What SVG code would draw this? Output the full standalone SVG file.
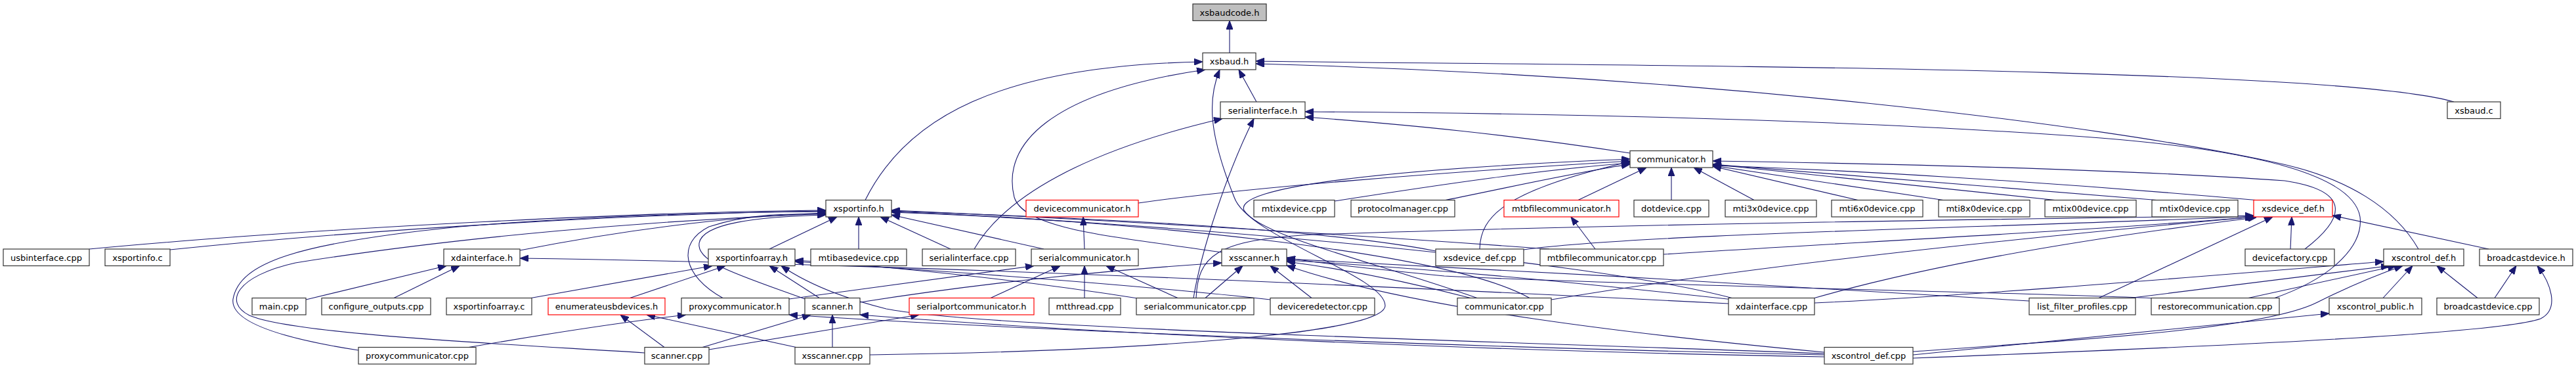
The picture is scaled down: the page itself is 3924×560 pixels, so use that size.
<svg xmlns="http://www.w3.org/2000/svg" width="3924" height="560" viewBox="0 0 3924 560">
<style>
.n rect{fill:#fff;stroke:#333;stroke-width:1.2}
.n.r rect{stroke:#f00}
.n.g rect{fill:#bfbfbf}
.n text{font-family:"DejaVu Sans","Liberation Sans",sans-serif;font-size:13px;text-anchor:middle;fill:#000}
#edges path{fill:none;stroke:#191970;stroke-width:1.1;marker-end:url(#ah)}
</style>
<defs>
<marker id="ah" markerUnits="userSpaceOnUse" markerWidth="13" markerHeight="10" viewBox="0 0 13 10" refX="13" refY="5" orient="auto">
<path d="M0,0 L13,5 L0,10 z" fill="#191970" stroke="#191970"/>
</marker>
</defs>
<rect width="3924" height="560" fill="#fff"/>
<g id="edges">
<path d="M1873,80.5 L1873,31.5"/>
<path d="M1914,155 L1887,106"/>
<path d="M1318,304.5 C1380,180 1520,100 1832,94"/>
<path d="M3738,155 C3550,100 2400,100 1913,93"/>
<path d="M3684,379 C3650,320 3580,270 3460,246 C3200,190 2600,115 1913,97"/>
<path d="M1325,540 C1700,535 2110,510 2110,465 C2110,420 1900,360 1880,300 C1840,200 1840,150 1858,106"/>
<path d="M1861,384 C1700,360 1560,350 1545,300 C1525,220 1600,140 1836,106"/>
<path d="M2483,233 C2300,205 2150,190 1988,178"/>
<path d="M1484,379 C1530,300 1650,230 1862,180.5"/>
<path d="M1818,453.5 C1830,380 1870,260 1910,180.5"/>
<path d="M3465,453.5 C3560,420 3600,370 3595,330 C3585,270 3450,230 3200,210 C2800,180 2300,172 1988,170"/>
<path d="M3511,379 C3575,330 3580,290 3480,275 C3200,255 2800,248 2609,245"/>
<path d="M3436,304.5 C3100,275 2800,258 2609,252"/>
<path d="M3285,304.5 L2609,250"/>
<path d="M3130,304.5 L2609,250"/>
<path d="M2960,304.5 L2609,252"/>
<path d="M2830,304.5 L2609,253"/>
<path d="M2672,304.5 L2580,255"/>
<path d="M2546,304.5 L2546,255"/>
<path d="M2404,304.5 L2508,255"/>
<path d="M1734,309 C1900,285 2200,262 2483,245"/>
<path d="M2033,306 C2200,280 2350,258 2483,248"/>
<path d="M2202,304.5 C2300,285 2400,262 2483,250"/>
<path d="M2250,453.5 C2100,400 1920,360 1895,320 C1880,285 2100,258 2483,242"/>
<path d="M2254,379 C2255,330 2290,290 2483,246"/>
<path d="M136,379 C500,345 1000,322 1258,320"/>
<path d="M259,380 C600,345 1000,325 1258,321"/>
<path d="M546,533 C430,515 350,490 355,455 C365,400 450,370 700,345 C900,328 1100,323 1258,322"/>
<path d="M982,537 C800,525 450,510 380,480 C340,460 360,420 450,400 C700,360 1000,335 1258,325"/>
<path d="M792,381 C950,350 1100,330 1258,324"/>
<path d="M1172,379 L1275,330"/>
<path d="M1308,379 L1308,330"/>
<path d="M1448,379 L1341,330"/>
<path d="M1590,379 L1358,327"/>
<path d="M1101,453.5 C1040,420 1030,370 1080,345 C1140,325 1200,325 1258,326"/>
<path d="M1226,455 C1130,420 1060,400 1065,370 C1070,340 1150,330 1258,327"/>
<path d="M2187,382 C2000,345 1600,330 1358,321"/>
<path d="M2360,379 C2100,360 1700,335 1358,320"/>
<path d="M2330,453.5 C2200,380 1700,335 1358,322"/>
<path d="M2640,454 C2400,390 1700,335 1358,323"/>
<path d="M806,454 L1085,404.5"/>
<path d="M958,454 L1105,404.5"/>
<path d="M1249,454 L1172,404.5"/>
<path d="M2779,538 C2300,520 1500,500 1350,470 C1270,450 1220,425 1190,404.5"/>
<path d="M1935,456 C1700,430 1400,410 1211,398"/>
<path d="M1733,454 C1550,425 1350,405 1211,396"/>
<path d="M466,456 L680,404.5"/>
<path d="M600,453.5 L700,404.5"/>
<path d="M2633,462 C2000,430 1300,400 792,393"/>
<path d="M1012,528.5 L945,479"/>
<path d="M1215,529 L985,479"/>
<path d="M714,528.5 C850,505 950,490 1045,479"/>
<path d="M2779,540 C2300,530 1600,505 1202,479"/>
<path d="M1202,455 L1575,404.5"/>
<path d="M1070,528.5 L1235,479"/>
<path d="M1268,528.5 L1268,479"/>
<path d="M2779,543 C2300,535 1700,510 1310,479"/>
<path d="M1310,460 C1500,430 1700,410 1861,400"/>
<path d="M1080,532 L1400,479"/>
<path d="M1509,453.5 L1615,404.5"/>
<path d="M1652,453.5 L1652,404.5"/>
<path d="M1794,453.5 L1685,404.5"/>
<path d="M1652,379 L1650,330"/>
<path d="M1836,453.5 L1893,404.5"/>
<path d="M1998,453.5 L1935,404.5"/>
<path d="M2240,453.5 C2150,430 2050,410 1960,398"/>
<path d="M2640,456 C2400,430 2200,410 1960,396"/>
<path d="M3091,458 C2800,440 2300,410 1960,394"/>
<path d="M3285,454 C3100,445 2500,435 2200,420 C2100,410 2000,400 1960,392"/>
<path d="M2779,536 C2500,510 2150,470 1960,404"/>
<path d="M1822,453.5 C1825,390 1850,365 2000,357 C2500,340 3100,333 3433,328"/>
<path d="M2321,380 C2500,355 3100,345 3433,329"/>
<path d="M2534,387 C2800,370 3200,350 3433,330"/>
<path d="M2363,456 C2700,400 3100,360 3435,330"/>
<path d="M2762,454 C2950,400 3200,360 3437,331"/>
<path d="M3197,453.5 L3462,330"/>
<path d="M3489,379 L3491,330"/>
<path d="M3791,379 L3553,328"/>
<path d="M2764,461 C3000,450 3300,425 3631,398"/>
<path d="M3245,453.5 L3640,404.5"/>
<path d="M3425,453.5 L3650,404.5"/>
<path d="M2914,535 C3200,515 3450,500 3530,460 C3580,435 3630,415 3660,404.5"/>
<path d="M3630,453.5 L3675,404.5"/>
<path d="M3774,453.5 L3712,404.5"/>
<path d="M3800,453.5 L3833,404.5"/>
<path d="M2914,545 C3300,530 3800,510 3870,485 C3900,470 3885,430 3865,404.5"/>
<path d="M2914,540 C3200,510 3400,490 3548,477"/>
<path d="M2430,379 L2393,330"/>
</g>
<g id="n_xsbaudcode_h" class="n g"><rect x="1817" y="6" width="112" height="25.5"/><text x="1873" y="23.5">xsbaudcode.h</text></g>
<g id="n_xsbaud_h" class="n"><rect x="1832" y="80.5" width="81" height="25.5"/><text x="1872.5" y="98">xsbaud.h</text></g>
<g id="n_serialinterface_h" class="n"><rect x="1859" y="155" width="129" height="25.5"/><text x="1923.5" y="172.5">serialinterface.h</text></g>
<g id="n_xsbaud_c" class="n"><rect x="3728" y="155" width="81" height="25.5"/><text x="3768.5" y="172.5">xsbaud.c</text></g>
<g id="n_communicator_h" class="n"><rect x="2483" y="229.5" width="126" height="25.5"/><text x="2546" y="247">communicator.h</text></g>
<g id="n_xsportinfo_h" class="n"><rect x="1258" y="304.5" width="100" height="25.5"/><text x="1308" y="322">xsportinfo.h</text></g>
<g id="n_devicecommunicator_h" class="n r"><rect x="1563" y="304.5" width="171" height="25.5"/><text x="1648.5" y="322">devicecommunicator.h</text></g>
<g id="n_mtixdevice_cpp" class="n"><rect x="1910" y="304.5" width="123" height="25.5"/><text x="1971.5" y="322">mtixdevice.cpp</text></g>
<g id="n_protocolmanager_cpp" class="n"><rect x="2058" y="304.5" width="158" height="25.5"/><text x="2137" y="322">protocolmanager.cpp</text></g>
<g id="n_mtbfilecommunicator_h" class="n r"><rect x="2291" y="304.5" width="175" height="25.5"/><text x="2378.5" y="322">mtbfilecommunicator.h</text></g>
<g id="n_dotdevice_cpp" class="n"><rect x="2489" y="304.5" width="114" height="25.5"/><text x="2546" y="322">dotdevice.cpp</text></g>
<g id="n_mti3x0device_cpp" class="n"><rect x="2628" y="304.5" width="139" height="25.5"/><text x="2697.5" y="322">mti3x0device.cpp</text></g>
<g id="n_mti6x0device_cpp" class="n"><rect x="2790" y="304.5" width="139" height="25.5"/><text x="2859.5" y="322">mti6x0device.cpp</text></g>
<g id="n_mti8x0device_cpp" class="n"><rect x="2953" y="304.5" width="139" height="25.5"/><text x="3022.5" y="322">mti8x0device.cpp</text></g>
<g id="n_mtix00device_cpp" class="n"><rect x="3115" y="304.5" width="139" height="25.5"/><text x="3184.5" y="322">mtix00device.cpp</text></g>
<g id="n_mtix0device_cpp" class="n"><rect x="3278" y="304.5" width="131" height="25.5"/><text x="3343.5" y="322">mtix0device.cpp</text></g>
<g id="n_xsdevice_def_h" class="n r"><rect x="3433" y="304.5" width="120" height="25.5"/><text x="3493" y="322">xsdevice_def.h</text></g>
<g id="n_usbinterface_cpp" class="n"><rect x="5" y="379" width="131" height="25.5"/><text x="70.5" y="396.5">usbinterface.cpp</text></g>
<g id="n_xsportinfo_c" class="n"><rect x="160" y="379" width="99" height="25.5"/><text x="209.5" y="396.5">xsportinfo.c</text></g>
<g id="n_xdainterface_h" class="n"><rect x="676" y="379" width="116" height="25.5"/><text x="734" y="396.5">xdainterface.h</text></g>
<g id="n_xsportinfoarray_h" class="n"><rect x="1079" y="379" width="132" height="25.5"/><text x="1145" y="396.5">xsportinfoarray.h</text></g>
<g id="n_mtibasedevice_cpp" class="n"><rect x="1235" y="379" width="146" height="25.5"/><text x="1308" y="396.5">mtibasedevice.cpp</text></g>
<g id="n_serialinterface_cpp" class="n"><rect x="1405" y="379" width="142" height="25.5"/><text x="1476" y="396.5">serialinterface.cpp</text></g>
<g id="n_serialcommunicator_h" class="n"><rect x="1571" y="379" width="163" height="25.5"/><text x="1652.5" y="396.5">serialcommunicator.h</text></g>
<g id="n_xsscanner_h" class="n"><rect x="1861" y="379" width="99" height="25.5"/><text x="1910.5" y="396.5">xsscanner.h</text></g>
<g id="n_xsdevice_def_cpp" class="n"><rect x="2187" y="379" width="134" height="25.5"/><text x="2254" y="396.5">xsdevice_def.cpp</text></g>
<g id="n_mtbfilecommunicator_cpp" class="n"><rect x="2346" y="379" width="188" height="25.5"/><text x="2440" y="396.5">mtbfilecommunicator.cpp</text></g>
<g id="n_devicefactory_cpp" class="n"><rect x="3420" y="379" width="136" height="25.5"/><text x="3488" y="396.5">devicefactory.cpp</text></g>
<g id="n_xscontrol_def_h" class="n"><rect x="3631" y="379" width="122" height="25.5"/><text x="3692" y="396.5">xscontrol_def.h</text></g>
<g id="n_broadcastdevice_h" class="n"><rect x="3777" y="379" width="142" height="25.5"/><text x="3848" y="396.5">broadcastdevice.h</text></g>
<g id="n_main_cpp" class="n"><rect x="384" y="453.5" width="82" height="25.5"/><text x="425" y="471">main.cpp</text></g>
<g id="n_configure_outputs_cpp" class="n"><rect x="490" y="453.5" width="166" height="25.5"/><text x="573" y="471">configure_outputs.cpp</text></g>
<g id="n_xsportinfoarray_c" class="n"><rect x="680" y="453.5" width="130" height="25.5"/><text x="745" y="471">xsportinfoarray.c</text></g>
<g id="n_enumerateusbdevices_h" class="n r"><rect x="835" y="453.5" width="178" height="25.5"/><text x="924" y="471">enumerateusbdevices.h</text></g>
<g id="n_proxycommunicator_h" class="n"><rect x="1038" y="453.5" width="164" height="25.5"/><text x="1120" y="471">proxycommunicator.h</text></g>
<g id="n_scanner_h" class="n"><rect x="1226" y="453.5" width="84" height="25.5"/><text x="1268" y="471">scanner.h</text></g>
<g id="n_serialportcommunicator_h" class="n r"><rect x="1385" y="453.5" width="190" height="25.5"/><text x="1480" y="471">serialportcommunicator.h</text></g>
<g id="n_mtthread_cpp" class="n"><rect x="1598" y="453.5" width="109" height="25.5"/><text x="1652.5" y="471">mtthread.cpp</text></g>
<g id="n_serialcommunicator_cpp" class="n"><rect x="1731" y="453.5" width="179" height="25.5"/><text x="1820.5" y="471">serialcommunicator.cpp</text></g>
<g id="n_deviceredetector_cpp" class="n"><rect x="1935" y="453.5" width="159" height="25.5"/><text x="2014.5" y="471">deviceredetector.cpp</text></g>
<g id="n_communicator_cpp" class="n"><rect x="2220" y="453.5" width="143" height="25.5"/><text x="2291.5" y="471">communicator.cpp</text></g>
<g id="n_xdainterface_cpp" class="n"><rect x="2633" y="453.5" width="131" height="25.5"/><text x="2698.5" y="471">xdainterface.cpp</text></g>
<g id="n_list_filter_profiles_cpp" class="n"><rect x="3091" y="453.5" width="162" height="25.5"/><text x="3172" y="471">list_filter_profiles.cpp</text></g>
<g id="n_restorecommunication_cpp" class="n"><rect x="3277" y="453.5" width="195" height="25.5"/><text x="3374.5" y="471">restorecommunication.cpp</text></g>
<g id="n_xscontrol_public_h" class="n"><rect x="3548" y="453.5" width="141" height="25.5"/><text x="3618.5" y="471">xscontrol_public.h</text></g>
<g id="n_broadcastdevice_cpp" class="n"><rect x="3712" y="453.5" width="156" height="25.5"/><text x="3790" y="471">broadcastdevice.cpp</text></g>
<g id="n_proxycommunicator_cpp" class="n"><rect x="546" y="528.5" width="179" height="25.5"/><text x="635.5" y="546">proxycommunicator.cpp</text></g>
<g id="n_scanner_cpp" class="n"><rect x="982" y="528.5" width="98" height="25.5"/><text x="1031" y="546">scanner.cpp</text></g>
<g id="n_xsscanner_cpp" class="n"><rect x="1211" y="528.5" width="114" height="25.5"/><text x="1268" y="546">xsscanner.cpp</text></g>
<g id="n_xscontrol_def_cpp" class="n"><rect x="2779" y="528.5" width="135" height="25.5"/><text x="2846.5" y="546">xscontrol_def.cpp</text></g>
</svg>
